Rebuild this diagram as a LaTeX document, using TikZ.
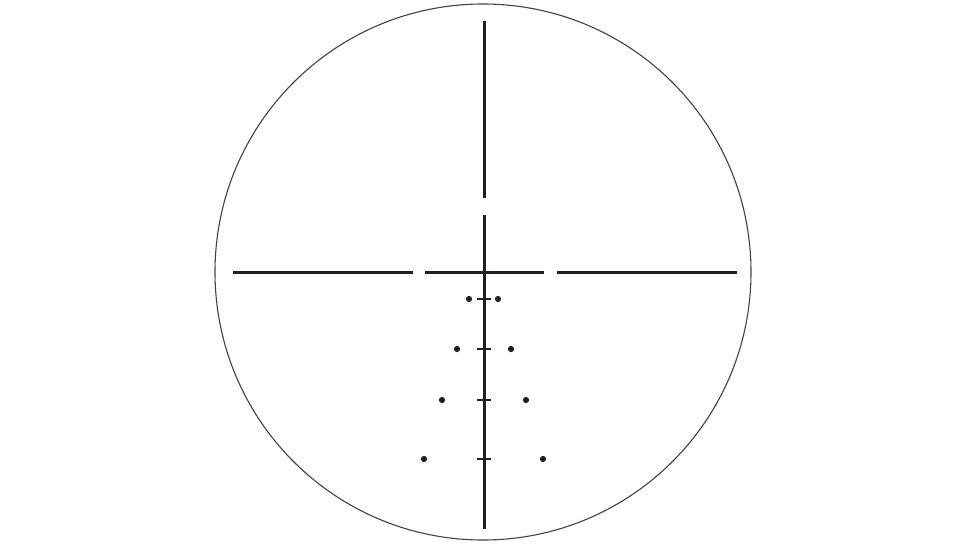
\documentclass[tikz,border=0pt]{standalone}
\definecolor{ink}{HTML}{231F20}
\begin{document}
\begin{tikzpicture}[x=1pt,y=-1pt,
  hair/.style={line width=3pt,draw=ink},
  tick/.style={line width=2.6pt,draw=ink},
  dot/.style={fill=ink}]
\useasboundingbox (0,0) rectangle (978,550);
\fill[white] (0,0) rectangle (978,550);
% outer ring
\draw[line width=1.1pt,draw=ink!85] (483,272) circle[radius=268];
% vertical posts
\draw[hair] (484,21) -- (484,198);
\draw[hair] (484,215) -- (484,529);
% horizontal posts
\draw[hair] (233,272) -- (413,272);
\draw[hair] (425,272) -- (544,272);
\draw[hair] (557,272) -- (737,272);
% stadia ticks
\foreach \yy in {299,349,400,459}
  \draw[tick] (477,\yy) -- (491,\yy);
% holdover dots
\foreach \xl/\xr/\yy in {469/498/299, 457/511/349, 442/526/400, 424/543/459}{
  \fill[dot] (\xl,\yy) circle[radius=3.1];
  \fill[dot] (\xr,\yy) circle[radius=3.1];
}
\end{tikzpicture}
\end{document}
